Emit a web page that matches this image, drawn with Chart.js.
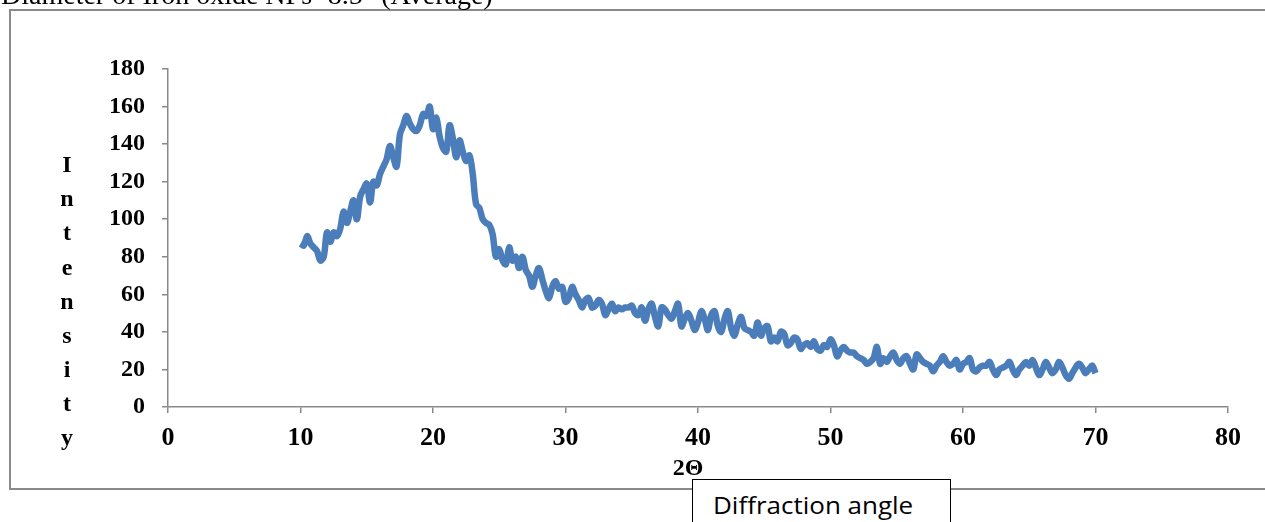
<!DOCTYPE html>
<html>
<head>
<meta charset="utf-8">
<script src="https://cdn.jsdelivr.net/npm/chart.js@4"></script>
<style>
  html, body { margin: 0; padding: 0; background: #fff; }
  #wrap { position: relative; width: 1265px; height: 522px; overflow: hidden; }
  #chartBox { position: absolute; left: 0; top: 0; width: 1265px; height: 522px; }
  #topNote { position: absolute; left: 1px; top: -19px; font: 28px "Liberation Serif", "Times New Roman", serif; line-height: 1; white-space: nowrap; color: #000; }
  #angleBox { position: absolute; left: 692px; top: 479px; width: 259px; height: 60px; border: 1.5px solid #000; background: #fff; box-sizing: border-box; }
  #angleBox span { position: absolute; left: 20px; top: 9px; font: 23px "Open Sans", sans-serif; white-space: nowrap; transform: scaleX(1.13); transform-origin: left top; }
</style>
</head>
<body>
<div id="wrap">
  <div id="chartBox"><canvas id="xrdChart"></canvas></div>
  <div id="topNote">Diameter of Iron oxide NPs=8.5" (Average)</div>
  <div id="angleBox"><span>Diffraction angle</span></div>
</div>
<script>
// 2-theta values (degrees)
const twoTheta = [
  10, 10.25, 10.5, 10.75, 11, 11.25, 11.5, 11.75, 12, 12.25, 12.5, 12.75, 13, 13.25, 13.5, 13.75, 14, 14.25, 14.5, 14.75,
  15, 15.25, 15.5, 15.75, 16, 16.25, 16.5, 16.75, 17, 17.25, 17.5, 17.75, 18, 18.25, 18.5, 18.75, 19, 19.25, 19.5, 19.75,
  20, 20.25, 20.5, 20.75, 21, 21.25, 21.5, 21.75, 22, 22.25, 22.5, 22.75, 23, 23.25, 23.5, 23.75, 24, 24.25, 24.5, 24.75,
  25, 25.25, 25.5, 25.75, 26, 26.25, 26.5, 26.75, 27, 27.25, 27.5, 27.75, 28, 28.25, 28.5, 28.75, 29, 29.25, 29.5, 29.75,
  30, 30.25, 30.5, 30.75, 31, 31.25, 31.5, 31.75, 32, 32.25, 32.5, 32.75, 33, 33.25, 33.5, 33.75, 34, 34.25, 34.5, 34.75,
  35, 35.25, 35.5, 35.75, 36, 36.25, 36.5, 36.75, 37, 37.25, 37.5, 37.75, 38, 38.25, 38.5, 38.75, 39, 39.25, 39.5, 39.75,
  40, 40.25, 40.5, 40.75, 41, 41.25, 41.5, 41.75, 42, 42.25, 42.5, 42.75, 43, 43.25, 43.5, 43.75, 44, 44.25, 44.5, 44.75,
  45, 45.25, 45.5, 45.75, 46, 46.25, 46.5, 46.75, 47, 47.25, 47.5, 47.75, 48, 48.25, 48.5, 48.75, 49, 49.25, 49.5, 49.75,
  50, 50.25, 50.5, 50.75, 51, 51.25, 51.5, 51.75, 52, 52.25, 52.5, 52.75, 53, 53.25, 53.5, 53.75, 54, 54.25, 54.5, 54.75,
  55, 55.25, 55.5, 55.75, 56, 56.25, 56.5, 56.75, 57, 57.25, 57.5, 57.75, 58, 58.25, 58.5, 58.75, 59, 59.25, 59.5, 59.75,
  60, 60.25, 60.5, 60.75, 61, 61.25, 61.5, 61.75, 62, 62.25, 62.5, 62.75, 63, 63.25, 63.5, 63.75, 64, 64.25, 64.5, 64.75,
  65, 65.25, 65.5, 65.75, 66, 66.25, 66.5, 66.75, 67, 67.25, 67.5, 67.75, 68, 68.25, 68.5, 68.75, 69, 69.25, 69.5, 69.75,
  70
];

// measured intensity
const intensity = [
  87, 86, 91, 87, 85, 83, 78, 80, 93, 88, 93, 91, 95, 104, 98, 104, 110, 100, 112, 116,
  119, 109, 120, 118, 124, 128, 132, 139, 133, 128, 145, 150, 155, 151, 148, 147, 150, 156, 155, 160,
  148, 154, 144, 138, 136, 150, 143, 133, 142, 136, 131, 134, 124, 108, 106, 100, 98, 97, 92, 80,
  84, 78, 76, 85, 78, 80, 74, 80, 73, 70, 64, 70, 74, 68, 62, 58, 64, 67, 63, 64,
  56, 58, 64, 60, 57, 53, 57, 58, 53, 54, 57, 55, 49, 52, 55, 51, 53, 52, 53, 53,
  54, 50, 49, 53, 46, 52, 55, 48, 43, 53, 52, 49, 47, 51, 55, 43, 47, 50, 46, 41,
  45, 51, 47, 41, 49, 51, 43, 40, 47, 51, 42, 38, 44, 48, 42, 41, 40, 38, 45, 38,
  42, 43, 35, 37, 35, 40, 39, 33, 34, 37, 36, 31, 33, 34, 32, 35, 31, 30, 33, 32,
  36, 33, 27, 30, 32, 30, 29, 29, 27, 26, 25, 23, 24, 26, 32, 23, 26, 24, 27, 29,
  25, 23, 26, 27, 23, 20, 28, 26, 24, 23, 22, 19, 22, 24, 27, 24, 22, 23, 25, 20,
  23, 24, 26, 20, 19, 21, 22, 22, 24, 20, 17, 20, 21, 22, 24, 20, 17, 20, 22, 24,
  22, 25, 21, 17, 20, 24, 21, 18, 20, 24, 21, 17, 15, 18, 21, 23, 21, 18, 20, 22,
  18
];

const xTicks = [0, 10, 20, 30, 40, 50, 60, 70, 80];
const yTicks = [0, 20, 40, 60, 80, 100, 120, 140, 160, 180];
const yTitle = 'Intensity';
const xTitle = '2\u0398';

const serif = '"Liberation Serif", "Times New Roman", serif';
const axisGray = '#898989';

// frame, stacked y title and x title
const decorations = {
  id: 'decorations',
  beforeDraw(chart) {
    const ctx = chart.ctx;
    ctx.save();
    ctx.fillStyle = '#fff';
    ctx.fillRect(0, 0, chart.width, chart.height);
    ctx.strokeStyle = '#8a8a8a';
    ctx.lineWidth = 2;
    ctx.strokeRect(10, 10, chart.width + 20, 479);
    ctx.restore();
  },
  afterDraw(chart) {
    const ctx = chart.ctx;
    ctx.save();
    ctx.fillStyle = '#000';
    ctx.font = 'bold 24px ' + serif;
    ctx.textAlign = 'center';
    ctx.textBaseline = 'middle';
    yTitle.split('').forEach((ch, i) => {
      ctx.fillText(ch, 67, 166 + i * 34.1);
    });
    ctx.fillText(xTitle, 688, 469);
    ctx.restore();
  }
};

new Chart(document.getElementById('xrdChart'), {
  type: 'line',
  data: {
    datasets: [{
      label: 'Intensity',
      data: twoTheta.map((t, i) => ({ x: t, y: intensity[i] })),
      borderColor: '#4a7dba',
      backgroundColor: '#4a7dba',
      borderWidth: 6.5,
      pointRadius: 0,
      tension: 0.35,
      fill: false
    }]
  },
  options: {
    responsive: true,
    maintainAspectRatio: false,
    animation: false,
    layout: { padding: { top: 69, right: 37, bottom: 0, left: 0 } },
    plugins: { legend: { display: false }, tooltip: { enabled: false } },
    scales: {
      x: {
        type: 'linear',
        min: 0, max: 80,
        afterBuildTicks: s => { s.ticks = xTicks.map(v => ({ value: v })); },
        afterFit: s => { s.height = 115; },
        grid: { drawOnChartArea: false, color: axisGray, tickLength: 6, lineWidth: 1.5 },
        border: { color: axisGray, width: 1.5 },
        ticks: { color: '#000', padding: 10, maxRotation: 0, font: { family: serif, size: 26, weight: 'bold' } }
      },
      y: {
        min: 0, max: 180,
        afterBuildTicks: s => { s.ticks = yTicks.map(v => ({ value: v })); },
        afterFit: s => { s.width = 168; },
        grid: { drawOnChartArea: false, color: axisGray, tickLength: 6, lineWidth: 1.5 },
        border: { color: axisGray, width: 1.5 },
        ticks: { color: '#000', padding: 17, font: { family: serif, size: 24, weight: 'bold' } }
      }
    }
  },
  plugins: [decorations]
});
</script>
</body>
</html>
